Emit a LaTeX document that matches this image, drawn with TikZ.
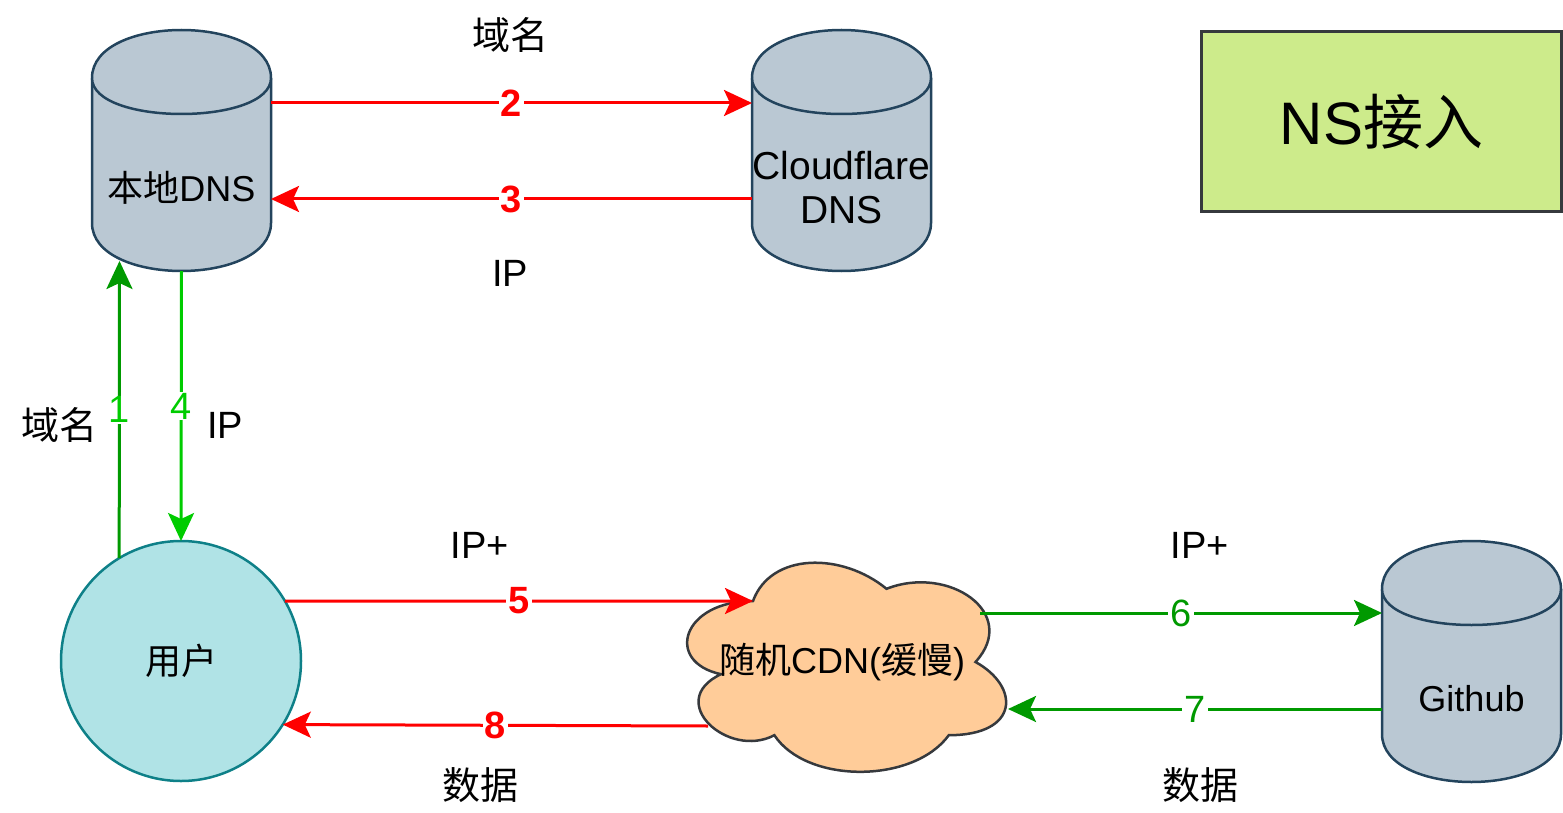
\documentclass[tikz,border=0pt]{standalone}
\usepackage{fontspec}
\setmainfont{Liberation Sans}
\newfontfamily\cjk{Noto Sans CJK SC}
\newcommand\zh[1]{{\cjk #1}}
\usetikzlibrary{arrows.meta}
\definecolor{storeFill}{HTML}{BAC8D3}
\definecolor{storeLine}{HTML}{23445D}
\definecolor{userFill}{HTML}{B0E3E6}
\definecolor{userLine}{HTML}{0E8088}
\definecolor{cdnFill}{HTML}{FFCC99}
\definecolor{darkLine}{HTML}{36393D}
\definecolor{noteFill}{HTML}{CDEB8B}
\definecolor{flowRed}{HTML}{FF0000}
\definecolor{flowGreen}{HTML}{009900}
\definecolor{flowLime}{HTML}{00CC00}
\newcommand\DrawStore[5][plain text]{% style, name, left, top, label
  \begin{scope}[shift={(#3,#4)}]
    \node[store box] (#2) at (89.5,120.5) {};
    \filldraw[store] (0,48) .. controls (0,-16) and (179,-16) .. (179,48)
      -- (179,193) .. controls (179,257) and (0,257) .. (0,193) -- cycle;
    \draw[store] (0,48) .. controls (0,96) and (179,96) .. (179,48); % front rim
    \node[#1,align=center] (#2-text) at (89.5,158) {#5};
  \end{scope}
}
\tikzset{%
  >={Stealth[length=28pt,width=26pt,inset=6pt]},
  inner sep=0pt,%
  outer sep=0pt,%
  plain text/.style={font=\fontsize{36}{44}\selectfont},
  label text/.style={font=\fontsize{38}{44}\selectfont},
  store/.style={fill=storeFill,draw=storeLine,line width=2.5pt},
  store box/.style={minimum width=179pt,minimum height=241pt},
  red flow/.style={draw=flowRed,line width=3pt,->},
  green flow/.style={draw=flowGreen,line width=3pt,->},
  lime flow/.style={draw=flowLime,line width=3pt,->},
  red num/.style={fill=white,inner xsep=2pt,inner ysep=1pt,text=flowRed,
    font=\fontsize{38}{44}\selectfont\bfseries},
  green num/.style={fill=white,inner xsep=2pt,inner ysep=1pt,text=flowGreen,
    font=\fontsize{38}{44}\selectfont},
  lime num/.style={green num,text=flowLime}
}

\begin{document}
\begin{tikzpicture}[x=1pt,y=-1pt]
\useasboundingbox (0,0) rectangle (1563,813);

%% servers
\DrawStore{ldns}{92}{30}{\zh{本地}DNS}
\DrawStore[font=\fontsize{39}{44}\selectfont]{cfdns}{752}{30}{Cloudflare\\DNS}
\DrawStore{gh}{1382}{541}{Github}

%% user and cdn
\node[circle,minimum size=240pt,fill=userFill,draw=userLine,line width=2.5pt,
  plain text] (user) at (181,661) {\zh{用户}};
\begin{scope}[shift={(664,540)},x=356pt,y=-244pt]
  \filldraw[fill=cdnFill,draw=darkLine,line width=2.5pt]
    (0.25,0.25) .. controls (0.05,0.25) and (0,0.5) .. (0.16,0.55)
    .. controls (0,0.66) and (0.18,0.9) .. (0.31,0.8)
    .. controls (0.4,1) and (0.7,1) .. (0.8,0.8)
    .. controls (1,0.8) and (1,0.6) .. (0.875,0.5)
    .. controls (1,0.3) and (0.8,0.1) .. (0.625,0.2)
    .. controls (0.5,0.05) and (0.3,0.05) .. (0.25,0.25) -- cycle;
\end{scope}
\node[plain text,minimum width=356pt,minimum height=244pt] (cdn) at (842,662)
  {\zh{随机}CDN(\zh{缓慢})};

%% title box
\node[fill=noteFill,draw=darkLine,line width=3pt,minimum width=360pt,
  minimum height=180pt,font=\fontsize{60}{72}\selectfont] (ns) at (1381.5,121.5)
  {NS\zh{接入}};

%% dns lookup
\draw[green flow] (user.121) -- node[lime num] (n1) {1}
  ([xshift=-62pt,yshift=10pt]ldns.south);
\draw[red flow] ([yshift=-73pt]ldns.north east) -- node[red num] (n2) {2}
  ([yshift=-73pt]cfdns.north west);
\draw[red flow] ([yshift=-169pt]cfdns.north west) -- node[red num] (n3) {3}
  ([yshift=-169pt]ldns.north east);
\draw[lime flow] (ldns.south) -- node[lime num] (n4) {4} (user.north);

%% data path
\draw[red flow] (user.30) -- node[red num] (n5) {5}
  ([xshift=89pt,yshift=-61pt]cdn.north west);
\draw[green flow] ([xshift=316pt,yshift=-73pt]cdn.north west) -- node[green num] (n6) {6}
  ([yshift=-72pt]gh.north west);
\draw[green flow] ([yshift=-168pt]gh.north west) -- node[green num] (n7) {7}
  ([xshift=344pt,yshift=-169pt]cdn.north west);
\draw[red flow] ([xshift=44pt,yshift=-186pt]cdn.north west) -- node[red num] (n8) {8}
  (user.-32);

%% labels
\node[label text] (askTop) at (510,35) {\zh{域名}};
\node[label text] (ipTop) at (510,273) {IP};
\node[label text] (askLeft) at (59,425) {\zh{域名}};
\node[label text] (ipLeft) at (225,425) {IP};
\node[label text] (reqLeft) at (480,545) {IP+};
\node[label text] (dataLeft) at (480,785) {\zh{数据}};
\node[label text] (reqRight) at (1200,545) {IP+};
\node[label text] (dataRight) at (1200,785) {\zh{数据}};

\end{tikzpicture}
\end{document}
